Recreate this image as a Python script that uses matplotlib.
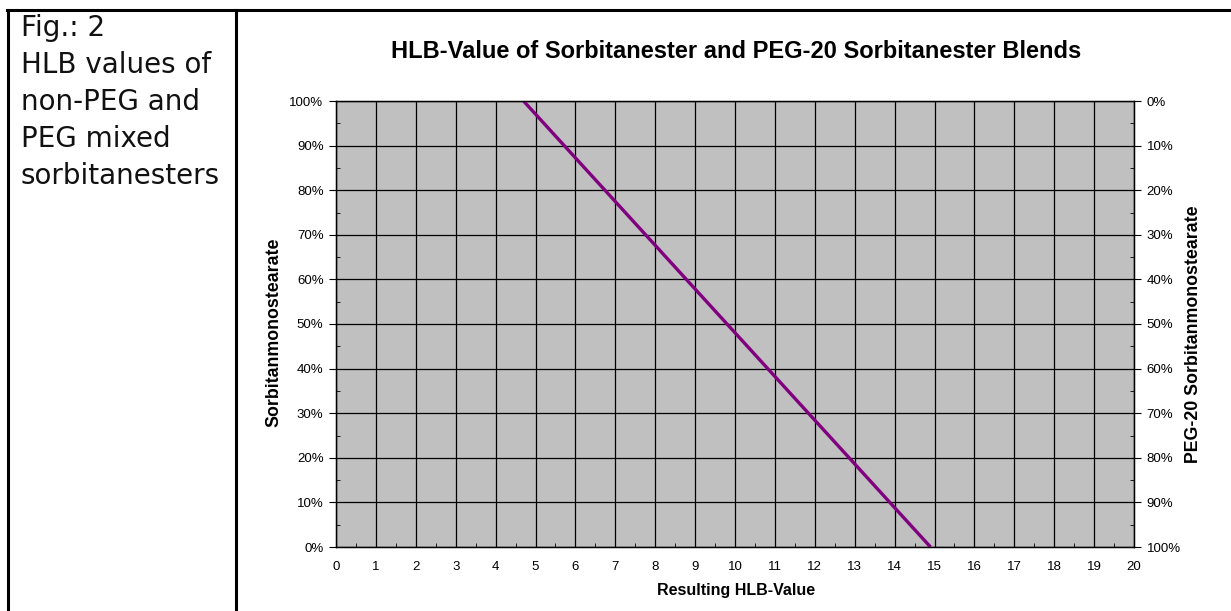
import numpy as np
import matplotlib
matplotlib.use('Agg')
import matplotlib.pyplot as plt
from matplotlib.lines import Line2D
from matplotlib.ticker import MultipleLocator, FuncFormatter

# data: HLB of the blend vs. share of sorbitan monostearate
hlb = [4.7, 14.9]
share_sms = [100, 0]          # % Sorbitanmonostearate (left axis)

caption = ['Fig.: 2', 'HLB values of', 'non-PEG and', 'PEG mixed', 'sorbitanesters']

W, H = 1231, 611
fig = plt.figure(figsize=(W / 100, H / 100), dpi=100)
plt.rcParams['font.family'] = ['Liberation Sans', 'DejaVu Sans']

def fx(px):
    return px / W

def fy(py):
    return 1 - py / H

# table frame
fig.add_artist(Line2D([fx(7), fx(W)], [fy(10), fy(10)], color='black', lw=2.2, transform=fig.transFigure))
fig.add_artist(Line2D([fx(8), fx(8)], [fy(10), fy(H)], color='black', lw=2.2, transform=fig.transFigure))
fig.add_artist(Line2D([fx(236), fx(236)], [fy(10), fy(H)], color='black', lw=2.2, transform=fig.transFigure))

# caption in the left cell
for i, line in enumerate(caption):
    fig.text(fx(21), fy(36 + 37 * i), line, fontsize=20, family='DejaVu Sans',
             color='#111111', va='baseline', ha='left')

top, bottom = 101, 547
ax = fig.add_axes([fx(336), fy(bottom), fx(1134 - 336), (bottom - top) / H])
ax.set_facecolor('#c0c0c0')
ax.set_xlim(0, 20)
ax.set_ylim(0, 100)
ax.xaxis.set_major_locator(MultipleLocator(1))
ax.xaxis.set_minor_locator(MultipleLocator(0.5))
ax.yaxis.set_major_locator(MultipleLocator(10))
ax.yaxis.set_minor_locator(MultipleLocator(5))
ax.yaxis.set_major_formatter(FuncFormatter(lambda v, p: f'{v:.0f}%'))
ax.grid(True, which='major', color='black', lw=0.9)
ax.set_axisbelow(True)

ax.plot(hlb, share_sms, color='#800080', lw=2.4, solid_capstyle='butt', zorder=3)

ax.tick_params(axis='x', which='major', length=0, pad=10, labelsize=9.5)
ax.tick_params(axis='x', which='minor', direction='in', length=3)
ax.tick_params(axis='y', which='major', direction='out', length=5, pad=4, labelsize=9.5)
ax.tick_params(axis='y', which='minor', direction='in', length=3)
for s in ax.spines.values():
    s.set_color('black')
    s.set_linewidth(1)

ax2 = ax.twinx()
ax2.set_ylim(100, 0)
ax2.yaxis.set_major_locator(MultipleLocator(10))
ax2.yaxis.set_minor_locator(MultipleLocator(5))
ax2.yaxis.set_major_formatter(FuncFormatter(lambda v, p: f'{v:.0f}%'))
ax2.tick_params(axis='y', which='major', direction='out', length=5, pad=4, labelsize=9.5)
ax2.tick_params(axis='y', which='minor', direction='in', length=3)

fig.text(fx(736), fy(52), 'HLB-Value of Sorbitanester and PEG-20 Sorbitanester Blends',
         fontsize=17, fontweight='bold', ha='center', va='center')
fig.text(fx(274), fy(332), 'Sorbitanmonostearate', fontsize=12.8, fontweight='bold',
         rotation=90, ha='center', va='center')
fig.text(fx(1193), fy(334), 'PEG-20 Sorbitanmonostearate', fontsize=12.8, fontweight='bold',
         rotation=90, ha='center', va='center')
fig.text(fx(736), fy(591), 'Resulting HLB-Value', fontsize=11.5, fontweight='bold',
         ha='center', va='center')

fig.savefig('out.png', dpi=100)
